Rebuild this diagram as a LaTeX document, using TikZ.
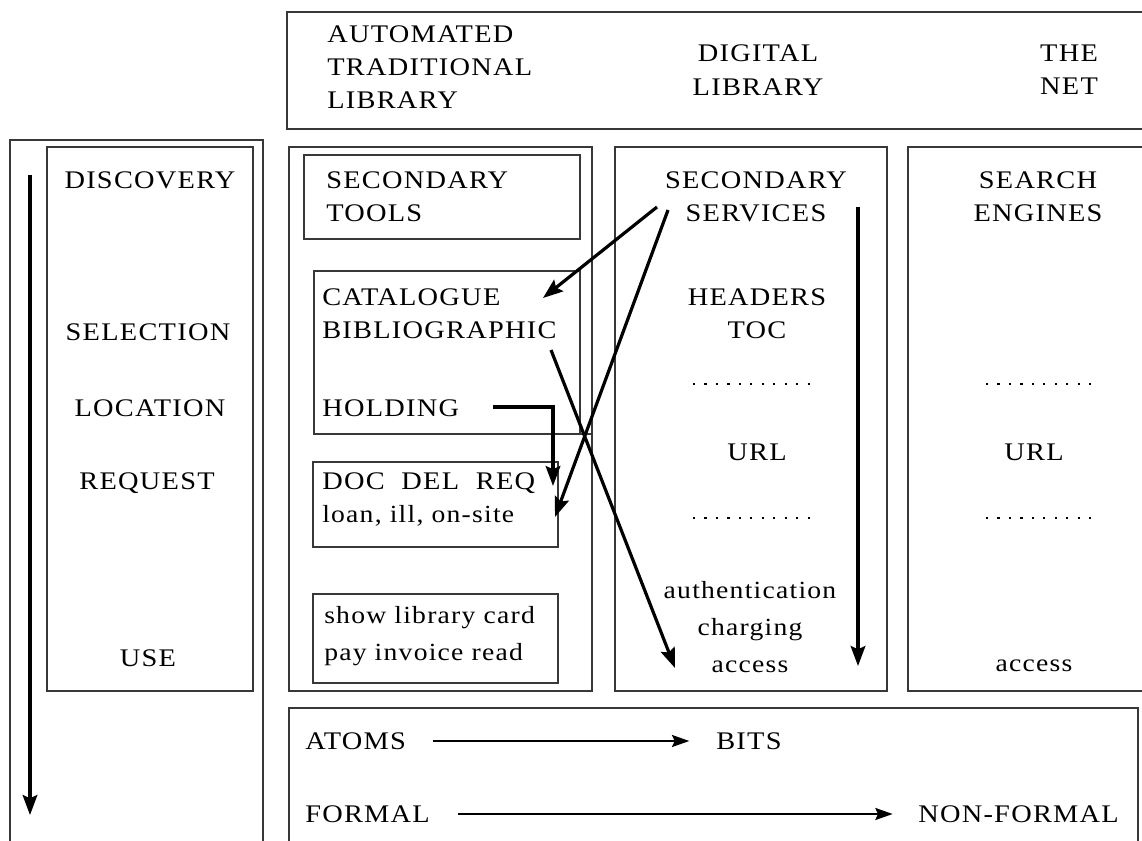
\documentclass[tikz,border=0pt]{standalone}
\usepackage{fontspec}
\setmainfont{Liberation Serif}[LetterSpace=5, FakeStretch=1.12]
\usetikzlibrary{arrows.meta}

\begin{document}
\begin{tikzpicture}[x=0.75pt, y=-0.75pt,
  frame/.style={draw=black!78, line width=1.5pt},
  lbl/.style={inner sep=0pt, font=\fontsize{19}{25}\selectfont},
  small/.style={inner sep=0pt, font=\fontsize{18.5}{27.5}\selectfont},
  flow/.style={line width=2.4pt, -{Stealth[length=15pt, width=11pt, inset=2.5pt]}},
  thinflow/.style={line width=1.6pt, -{Stealth[length=13pt, width=9pt, inset=2pt]}},
  dotrow/.style={line width=#1, dash pattern=on 1.6pt off 7pt},
]
\useasboundingbox (0,0) rectangle (1142,841);
\fill[white] (0,0) rectangle (1142,841);
\begin{scope}
\clip (0,0) rectangle (1142,841);

% header band and column frames
\draw[frame] (287,12) rectangle (1160,129);
\draw[frame] (10,140) rectangle (263,870);
\draw[frame] (47,147) rectangle (253,691);
\draw[frame] (289,147) rectangle (592,691);
\draw[frame] (615,147) rectangle (887,691);
\draw[frame] (908,147) rectangle (1160,691);
\draw[frame] (289,708) rectangle (1138,870);

% boxes inside the automated library column
\draw[frame] (304,155) rectangle (580,239);
\draw[frame] (314,271) rectangle (580,434);
\draw[frame] (580,434) -- (592,434);
\draw[frame] (313,462) rectangle (558,547);
\draw[frame] (313,594) rectangle (558,683);
\end{scope}

% header labels
\node[lbl, anchor=west, align=left] (auto) at (327,67) {AUTOMATED\\TRADITIONAL\\LIBRARY};
\node[lbl, align=center] (digital) at (758,70) {DIGITAL\\LIBRARY};
\node[lbl, align=center] (net) at (1069,70) {THE\\NET};

% process steps
\node[lbl] (discovery) at (150,180) {DISCOVERY};
\node[lbl] (selection) at (148,332) {SELECTION};
\node[lbl] (location) at (150,408) {LOCATION};
\node[lbl] (request) at (147,483) {REQUEST};
\node[lbl] (use) at (148,658) {USE};

% automated traditional library
\node[lbl, anchor=west, align=left] (sectools) at (326,197) {SECONDARY\\TOOLS};
\node[lbl, anchor=west, align=left] (catalogue) at (322,314) {CATALOGUE\\BIBLIOGRAPHIC};
\node[lbl, anchor=west] (holding) at (322,408) {HOLDING};
\node[lbl, anchor=west] (docdel) at (322,483) {DOC\ \ DEL\ \ REQ};
\node[small, anchor=west] (loan) at (322,516) {loan, ill, on-site};
\node[small, anchor=west, align=left] (showcard) at (324,636) {show library card\\pay invoice read};

% digital library
\node[lbl, align=center] (secserv) at (756,197) {SECONDARY\\SERVICES};
\node[lbl, align=center] (headers) at (757,314) {HEADERS\\TOC};
\node[lbl] (url1) at (757,452) {URL};
\node[small, align=center] (auth) at (750,627) {authentication\\charging\\access};
\draw[dotrow=2pt] (693,384) -- (812,384);
\draw[dotrow=1.1pt] (693,518) -- (812,518);

% the net
\node[lbl, align=center] (search) at (1038,197) {SEARCH\\ENGINES};
\node[lbl] (url2) at (1034,452) {URL};
\node[small] (access2) at (1034,666) {access};
\draw[dotrow=2pt] (986,384) -- (1094,384);
\draw[dotrow=1.1pt] (986,518) -- (1094,518);

% bottom band
\node[lbl, anchor=west] (atoms) at (305,741) {ATOMS};
\node[lbl, anchor=west] (bits) at (716,741) {BITS};
\node[lbl, anchor=west] (formal) at (305,814) {FORMAL};
\node[lbl, anchor=west] (nonformal) at (918,814) {NON-FORMAL};
\draw[thinflow, shorten <=20pt, shorten >=20pt] (atoms.east) -- (bits.west);
\draw[thinflow, shorten <=21pt, shorten >=19pt] (formal.east) -- (nonformal.west);

% connector ends
\coordinate (ssA) at (657,207);
\coordinate (ssB) at (668,210);
\coordinate (catIn) at (543,298);
\coordinate (docIn) at (555,517);
\coordinate (bibOut) at (551,350);
\coordinate (accIn) at (675,668);
\coordinate (holdOut) at (493,407);
\coordinate (docTop) at (553,486);
\coordinate (svTop) at (858,207);
\coordinate (svEnd) at (858,666);
\coordinate (stepTop) at (30,175);
\coordinate (stepEnd) at (30,815);

% flows
\draw[flow] (ssA) -- (catIn);
\draw[flow] (ssB) -- (docIn);
\draw[flow] (bibOut) -- (accIn);
\draw[flow] (holdOut) -| (docTop);
\draw[flow] (svTop) -- (svEnd);
\draw[flow] (stepTop) -- (stepEnd);
\end{tikzpicture}
\end{document}
